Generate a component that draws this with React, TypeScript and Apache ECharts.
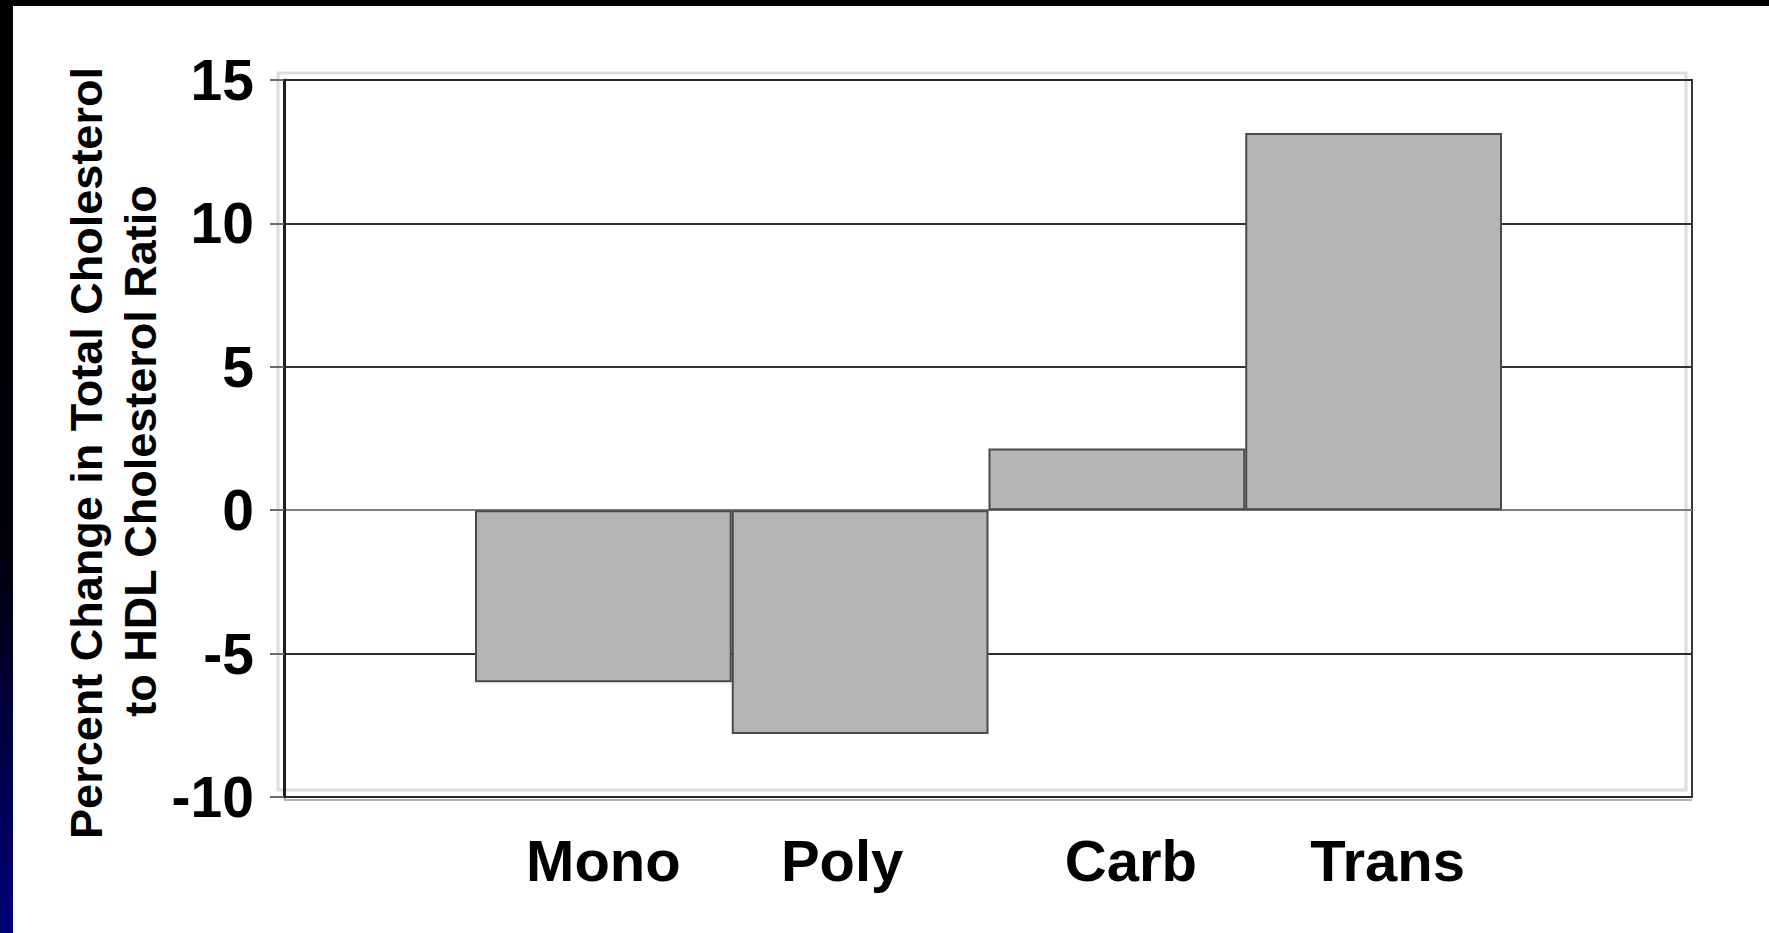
import React, { useEffect, useRef } from "react";
import * as echarts from "echarts";

// Diet categories and the percent change in the TC:HDL cholesterol ratio
const categories: string[] = ["Mono", "Poly", "Carb", "Trans"];
const ratioChange: number[] = [-6.0, -7.8, 2.15, 13.15];

// Value axis ticks
const yMin = -10;
const yMax = 15;
const yStep = 5;

const titleLine1 = "Percent Change in Total Cholesterol";
const titleLine2 = "to HDL Cholesterol Ratio";

const FONT = '"Liberation Sans", Arial, Helvetica, sans-serif';

// Horizontal nudges of the category labels (px, + is right)
const labelShift: number[] = [0, -18, 14, 14];

export default function App() {
  const ref = useRef<HTMLDivElement>(null);

  useEffect(() => {
    if (!ref.current) return;
    const chart = echarts.init(ref.current, undefined, { renderer: "svg" });

    const rich: Record<string, any> = {};
    labelShift.forEach((s, i) => {
      rich["c" + i] = {
        fontFamily: FONT,
        fontSize: 58,
        fontWeight: "bold",
        color: "#000",
        padding: s >= 0 ? [0, 0, 0, 2 * s] : [0, -2 * s, 0, 0],
      };
    });

    const frameTop = 80;
    const frameBottom = 933 - 797;

    chart.setOption({
      animation: false,
      backgroundColor: "#ffffff",
      grid: [
        {
          // frame with horizontal gridlines
          left: 284,
          right: 1769 - 1692,
          top: frameTop,
          bottom: frameBottom,
          show: true,
          borderColor: "#3a3a3a",
          borderWidth: 2,
          backgroundColor: "transparent",
        },
        {
          // the bars sit edge to edge in the middle of the frame
          left: 475,
          right: 1769 - 1502,
          top: frameTop,
          bottom: frameBottom,
        },
      ],
      xAxis: [
        { type: "value", gridIndex: 0, show: false, min: 0, max: 1 },
        {
          type: "category",
          gridIndex: 1,
          data: categories,
          axisLine: { show: false },
          axisTick: { show: false },
          splitLine: { show: false },
          axisLabel: {
            interval: 0,
            hideOverlap: false,
            margin: 34,
            fontFamily: FONT,
            fontSize: 58,
            fontWeight: "bold",
            color: "#000",
            formatter: (v: string, i: number) => `{c${i}|${v}}`,
            rich,
          },
        },
      ],
      yAxis: [
        {
          type: "value",
          gridIndex: 0,
          min: yMin,
          max: yMax,
          interval: yStep,
          axisLine: { show: true, lineStyle: { color: "#1e1e1e", width: 3 } },
          axisTick: {
            show: true,
            length: 14,
            lineStyle: { color: "#6a6a6a", width: 2 },
          },
          axisLabel: {
            margin: 30,
            fontFamily: FONT,
            fontSize: 57,
            fontWeight: "bold",
            color: "#000",
            padding: [10, 0, 0, 0],
          },
          splitLine: {
            show: true,
            lineStyle: {
              color: ["#2a2a2a", "#2a2a2a", "#7e7e7e", "#333333", "#333333", "#2a2a2a"],
              width: 2,
            },
          },
        },
        {
          type: "value",
          gridIndex: 1,
          min: yMin,
          max: yMax,
          interval: yStep,
          show: false,
        },
      ],
      series: [
        {
          type: "bar",
          xAxisIndex: 1,
          yAxisIndex: 1,
          data: ratioChange,
          barCategoryGap: "0%",
          barWidth: "100%",
          itemStyle: {
            color: "#b5b5b5",
            borderColor: "#4a4a4a",
            borderWidth: 2,
          },
          z: 3,
        },
      ],
      graphic: [
        // slide border: dark strip on top, black-to-navy strip on the left
        {
          type: "rect",
          shape: { x: 0, y: 0, width: 1769, height: 6 },
          style: { fill: "#000" },
          z: 10,
        },
        {
          type: "rect",
          shape: { x: 0, y: 0, width: 13, height: 933 },
          style: {
            fill: new echarts.graphic.LinearGradient(0, 0, 0, 1, [
              { offset: 0, color: "#000000" },
              { offset: 0.6, color: "#00000e" },
              { offset: 1, color: "#00007a" },
            ]),
          },
          z: 10,
        },
        // faint offset frame behind the plot area
        {
          type: "rect",
          shape: { x: 278, y: 73, width: 1408, height: 717 },
          style: { fill: "none", stroke: "#dcdcdc", lineWidth: 3 },
          z: -1,
        },
        {
          type: "line",
          shape: { x1: 284, y1: 800, x2: 1692, y2: 800 },
          style: { stroke: "#b0b0b0", lineWidth: 2 },
          z: -1,
        },
        // y-axis title, two rotated lines
        {
          type: "text",
          x: 86,
          y: 453,
          rotation: Math.PI / 2,
          style: {
            text: titleLine1,
            font: `bold 45px ${FONT}`,
            fill: "#000",
            textAlign: "center",
            textVerticalAlign: "middle",
          },
        },
        {
          type: "text",
          x: 140,
          y: 451,
          rotation: Math.PI / 2,
          style: {
            text: titleLine2,
            font: `bold 45px ${FONT}`,
            fill: "#000",
            textAlign: "center",
            textVerticalAlign: "middle",
          },
        },
      ],
    });

    return () => {
      chart.dispose();
    };
  }, []);

  return (
    <div
      ref={ref}
      style={{ position: "absolute", left: 0, top: 0, width: 1769, height: 933 }}
    />
  );
}
